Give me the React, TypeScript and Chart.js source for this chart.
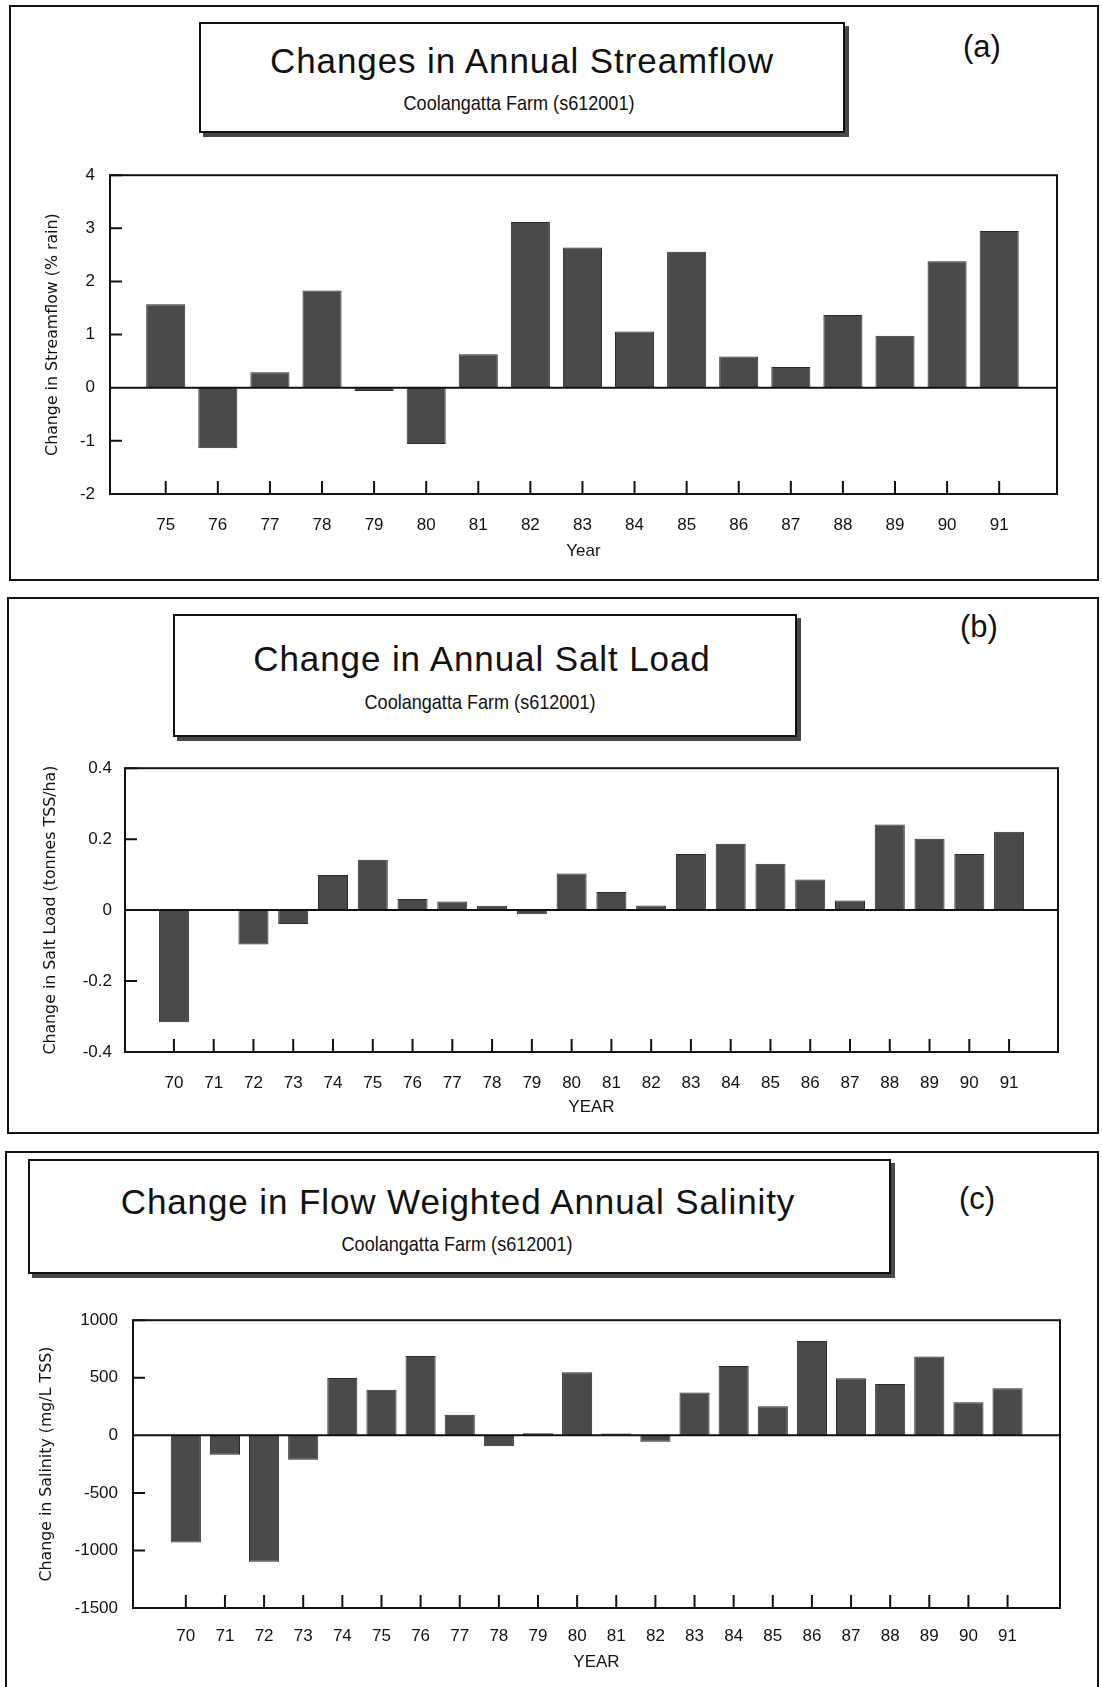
import React, { useEffect, useRef } from 'react';
import { Chart, registerables } from 'chart.js';

Chart.register(...registerables);

// ---------- data ----------
const yearsA = [75, 76, 77, 78, 79, 80, 81, 82, 83, 84, 85, 86, 87, 88, 89, 90, 91];
const streamflowChange = [1.57, -1.14, 0.29, 1.83, -0.06, -1.06, 0.63, 3.12, 2.64, 1.06, 2.56, 0.59, 0.39, 1.37, 0.98, 2.38, 2.95];
const yTicksA = [-2, -1, 0, 1, 2, 3, 4];

const yearsBC = [70, 71, 72, 73, 74, 75, 76, 77, 78, 79, 80, 81, 82, 83, 84, 85, 86, 87, 88, 89, 90, 91];
const saltLoadChange = [-0.316, null, -0.097, -0.039, 0.099, 0.142, 0.031, 0.024, 0.012, -0.012, 0.103, 0.051, 0.013, 0.158, 0.187, 0.131, 0.086, 0.027, 0.241, 0.201, 0.158, 0.221];
const yTicksB = [-0.4, -0.2, 0, 0.2, 0.4];

const salinityChange = [-932, -169, -1098, -213, 498, 396, 688, 178, -96, 17, 548, 15, -55, 373, 603, 253, 819, 495, 446, 685, 288, 408];
const yTicksC = [-1500, -1000, -500, 0, 500, 1000];

const titles = ['Changes in Annual Streamflow', 'Change in Annual Salt Load', 'Change in Flow Weighted Annual Salinity'];
const subtitle = 'Coolangatta Farm (s612001)';
const panelLabels = ['(a)', '(b)', '(c)'];
const yTitles = ['Change in Streamflow (% rain)', 'Change in Salt Load (tonnes TSS/ha)', 'Change in Salinity (mg/L TSS)'];
const xTitles = ['Year', 'YEAR', 'YEAR'];

// ---------- styling ----------
const SANS = '"Liberation Sans", Arial, Helvetica, sans-serif';
const YTITLE = '"DejaVu Sans", "Liberation Sans", sans-serif';
const INK = '#111';

const framePlugin = {
  id: 'frame',
  afterDatasetsDraw(chart: any) {
    const { ctx, chartArea } = chart;
    const { left, top, right, bottom } = chartArea;
    const xs = chart.scales.x;
    const ys = chart.scales.y;
    ctx.save();
    ctx.strokeStyle = INK;
    ctx.lineWidth = 2;
    ctx.strokeRect(left, top, right - left, bottom - top);
    ctx.beginPath();
    const y0 = ys.getPixelForValue(0);
    ctx.moveTo(left, y0);
    ctx.lineTo(right, y0);
    xs.ticks.forEach((t: any) => {
      const x = xs.getPixelForValue(t.value);
      ctx.moveTo(x, bottom);
      ctx.lineTo(x, bottom - 13);
    });
    ys.ticks.forEach((t: any) => {
      const y = ys.getPixelForValue(t.value);
      ctx.moveTo(left, y);
      ctx.lineTo(left + 12, y);
    });
    ctx.stroke();
    ctx.restore();
  },
};

type Spec = {
  years: number[];
  values: (number | null)[];
  yTicks: number[];
  xMin: number;
  xMax: number;
  barPct: number;
  cx: number; cy: number; cw: number; ch: number;
  padTop: number; padRight: number;
  yAxisW: number; xAxisH: number;
  yTickPad: number; xTickPad: number;
  yTitlePad: number; xTitlePad: number;
  yTitle: string; xTitle: string;
};

const specs: Spec[] = [
  {
    years: yearsA, values: streamflowChange, yTicks: yTicksA,
    xMin: 73.93, xMax: 92.11, barPct: 0.75,
    cx: 20, cy: 150, cw: 1060, ch: 420,
    padTop: 13, padRight: 23, yAxisW: 90, xAxisH: 76,
    yTickPad: 15, xTickPad: 20.8, yTitlePad: 23.5, xTitlePad: 8.8,
    yTitle: yTitles[0], xTitle: xTitles[0],
  },
  {
    years: yearsBC, values: saltLoadChange, yTicks: yTicksB,
    xMin: 68.77, xMax: 92.23, barPct: 0.755,
    cx: 20, cy: 745, cw: 1060, ch: 380,
    padTop: 17, padRight: 22, yAxisW: 105, xAxisH: 73,
    yTickPad: 13, xTickPad: 20.8, yTitlePad: 21.5, xTitlePad: 7.8,
    yTitle: yTitles[1], xTitle: xTitles[1],
  },
  {
    years: yearsBC, values: salinityChange, yTicks: yTicksC,
    xMin: 68.65, xMax: 92.34, barPct: 0.77,
    cx: 15, cy: 1295, cw: 1065, ch: 385,
    padTop: 15, padRight: 20, yAxisW: 118, xAxisH: 72,
    yTickPad: 15, xTickPad: 17.8, yTitlePad: 22.5, xTitlePad: 7.8,
    yTitle: yTitles[2], xTitle: xTitles[2],
  },
];

function makeConfig(p: Spec): any {
  const yMin = Math.min(...p.yTicks);
  const yMax = Math.max(...p.yTicks);
  return {
    type: 'bar',
    data: {
      datasets: [
        {
          data: p.years.map((yr, i) => ({ x: yr, y: p.values[i] })),
          backgroundColor: '#4a4a4a',
          borderColor: '#2a2a2a',
          borderWidth: 1,
          barPercentage: p.barPct,
          categoryPercentage: 1,
        },
      ],
    },
    options: {
      animation: false,
      responsive: false,
      maintainAspectRatio: false,
      layout: { padding: { top: p.padTop, right: p.padRight, left: 0, bottom: 0 } },
      plugins: { legend: { display: false }, tooltip: { enabled: false }, title: { display: false } },
      scales: {
        x: {
          type: 'linear',
          min: p.xMin,
          max: p.xMax,
          offset: false,
          grid: { display: false, drawTicks: false },
          border: { display: false },
          afterBuildTicks: (s: any) => { s.ticks = p.years.map((v) => ({ value: v })); },
          afterFit: (s: any) => { s.height = p.xAxisH; },
          ticks: {
            padding: p.xTickPad, color: INK, autoSkip: false, maxRotation: 0, minRotation: 0,
            font: { family: SANS, size: 17 },
            callback: (v: any) => String(v),
          },
          title: {
            display: true, text: p.xTitle, color: INK,
            font: { family: SANS, size: 17 },
            padding: { top: 0, bottom: p.xTitlePad },
          },
        },
        y: {
          type: 'linear',
          min: yMin,
          max: yMax,
          grid: { display: false, drawTicks: false },
          border: { display: false },
          afterBuildTicks: (s: any) => { s.ticks = p.yTicks.map((v) => ({ value: v })); },
          afterFit: (s: any) => { s.width = p.yAxisW; },
          ticks: {
            padding: p.yTickPad, color: INK, autoSkip: false,
            font: { family: SANS, size: 17 },
            callback: (v: any) => String(v),
          },
          title: {
            display: true, text: p.yTitle, color: INK,
            font: { family: YTITLE, size: 15.8 },
            padding: { top: p.yTitlePad, bottom: 0 },
          },
        },
      },
    },
    plugins: [framePlugin],
  };
}

function ChartCanvas({ spec }: { spec: Spec }) {
  const ref = useRef<HTMLCanvasElement>(null);
  useEffect(() => {
    const chart = new Chart(ref.current as HTMLCanvasElement, makeConfig(spec));
    return () => chart.destroy();
  }, [spec]);
  return (
    <canvas
      ref={ref}
      width={spec.cw}
      height={spec.ch}
      style={{ position: 'absolute', left: spec.cx, top: spec.cy, width: spec.cw, height: spec.ch }}
    />
  );
}

function Txt({ cx, baseline, size, text, family, spacing, sx }: { cx: number; baseline: number; size: number; text: string; family: string; spacing?: number; sx?: number }) {
  return (
    <div
      style={{
        position: 'absolute', left: cx - 500, width: 1000, top: baseline - 0.8465 * size,
        textAlign: 'center', fontSize: size, lineHeight: `${size}px`, fontFamily: family,
        letterSpacing: spacing ? `${spacing}px` : undefined, whiteSpace: 'nowrap', color: INK,
        transform: sx ? `scaleX(${sx})` : undefined, transformOrigin: '500px 0',
      }}
    >
      {text}
    </div>
  );
}

function Box({ x, y, w, h, shadow }: { x: number; y: number; w: number; h: number; shadow?: boolean }) {
  return (
    <div
      style={{
        position: 'absolute', left: x, top: y, width: w, height: h, boxSizing: 'border-box',
        border: `2px solid ${INK}`, background: '#fff',
        boxShadow: shadow ? '4px 4px 0 #474747' : undefined,
      }}
    />
  );
}

const layout = [
  { outer: [9, 5, 1090, 576], tbox: [199, 22, 646, 111], tcx: 522, tBase: 73, sBase: 110, scx: 519, lab: [982, 57] },
  { outer: [7, 597, 1092, 537], tbox: [173, 614, 624, 123], tcx: 482, tBase: 671, sBase: 709, scx: 480, lab: [979, 637] },
  { outer: [5, 1151, 1094, 600], tbox: [28, 1159, 863, 115], tcx: 458, tBase: 1214, sBase: 1251, scx: 457, lab: [977, 1209] },
];

export default function App() {
  return (
    <div style={{ position: 'absolute', left: 0, top: 0, width: 1102, height: 1687, background: '#fff', overflow: 'hidden' }}>
      {layout.map((L, i) => (
        <React.Fragment key={i}>
          <Box x={L.outer[0]} y={L.outer[1]} w={L.outer[2]} h={L.outer[3]} />
          <Box x={L.tbox[0]} y={L.tbox[1]} w={L.tbox[2]} h={L.tbox[3]} shadow />
          <Txt cx={L.tcx} baseline={L.tBase} size={35} text={titles[i]} family={SANS} spacing={0.9} />
          <Txt cx={L.scx} baseline={L.sBase} size={21} text={subtitle} family={SANS} sx={0.86} />
          <Txt cx={L.lab[0]} baseline={L.lab[1]} size={31} text={panelLabels[i]} family={SANS} />
          <ChartCanvas spec={specs[i]} />
        </React.Fragment>
      ))}
    </div>
  );
}
